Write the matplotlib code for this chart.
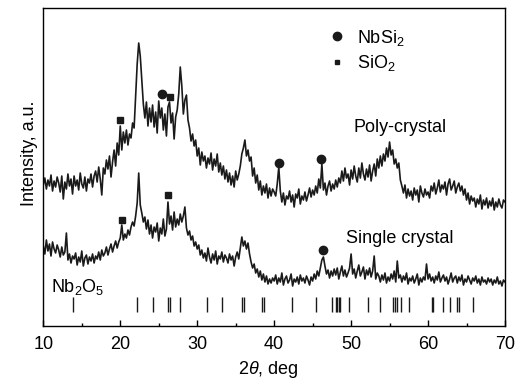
import numpy as np
import matplotlib
matplotlib.use("Agg")
import matplotlib.pyplot as plt
from matplotlib.lines import Line2D
from matplotlib.ticker import MultipleLocator

plt.rcParams['font.family'] = ['Liberation Sans', 'DejaVu Sans']
plt.rcParams['mathtext.fontset'] = 'custom'
plt.rcParams['mathtext.rm'] = 'Liberation Sans'
plt.rcParams['mathtext.it'] = 'Liberation Sans:italic'

# ---------------- data ----------------
two_theta = np.linspace(10, 70, 301)

poly_crystal = [
    141,148,137,146,140,151,135,145,139,149,
    143,134,150,127,144,137,152,140,147,132,
    150,140,146,136,153,142,138,149,135,147,
    143,152,139,150,155,144,159,147,131,158,
    152,166,157,170,149,164,176,160,183,171,
    200,176,194,183,196,181,192,188,203,198,
    231,262,283,270,246,222,208,224,200,218,
    204,221,199,214,193,225,208,218,196,212,
    190,219,224,203,213,187,209,216,232,259,
    240,212,226,231,206,198,185,192,180,186,
    170,178,161,174,165,170,158,168,162,173,
    156,167,160,172,154,163,151,160,147,156,
    144,153,141,150,139,155,146,152,160,172,
    178,186,170,176,165,169,150,158,143,151,
    136,145,131,140,133,142,128,138,130,137,
    134,130,142,159,135,124,133,121,130,127,
    135,124,131,119,132,128,137,122,130,126,
    134,125,131,138,129,136,131,140,133,147,
    138,162,136,143,131,140,145,135,142,137,
    146,139,148,143,155,145,158,148,152,141,
    156,147,160,150,144,158,148,163,152,146,
    157,149,161,145,155,162,150,167,158,170,
    160,172,165,178,169,184,171,176,162,167,
    158,163,146,140,133,141,128,137,130,135,
    126,138,131,136,124,140,133,129,137,131,
    134,128,140,135,143,132,138,146,134,141,
    137,144,131,142,147,136,140,145,133,139,
    143,135,140,131,137,126,133,122,130,125,
    128,119,127,122,131,117,126,121,128,118,
    125,120,128,116,124,119,127,121,118,126,
    124]

single_crystal = [
    80,72,86,75,82,70,84,77,73,81,
    76,69,79,71,74,93,66,72,63,70,
    67,73,61,69,64,75,60,68,71,62,
    69,65,72,63,70,67,74,66,76,70,
    73,79,71,77,82,74,80,85,78,84,
    88,101,86,92,88,96,91,99,104,100,
    110,123,153,121,113,104,109,97,106,92,
    101,88,99,94,103,85,98,92,107,90,
    97,124,102,110,96,114,99,107,101,112,
    104,110,119,98,91,95,86,90,80,84,
    77,81,71,76,68,73,65,78,69,63,
    72,66,75,62,70,67,74,64,71,68,
    63,72,66,70,60,69,74,67,78,89,
    80,85,77,83,72,64,58,62,53,57,
    49,55,46,52,44,50,42,47,43,48,
    45,51,42,48,44,53,41,47,50,43,
    46,52,40,47,44,49,42,51,45,48,
    43,50,46,41,49,45,52,47,55,50,
    58,66,69,60,52,56,48,55,50,57,
    51,58,47,54,60,50,56,49,53,58,
    72,52,57,48,55,61,50,54,59,47,
    56,51,58,49,55,70,47,53,50,44,
    51,46,53,43,49,45,52,47,55,44,
    65,48,51,44,50,46,53,42,48,45,
    50,43,47,52,41,48,44,49,46,62,
    47,52,45,49,43,50,46,54,44,48,
    51,45,49,42,47,53,44,48,50,43,
    49,45,51,41,47,44,50,46,42,48,
    45,50,43,47,41,49,44,46,42,48,
    44,47,41,46,43,49,42,45,40,46,
    44]

# phase markers (2theta, intensity)
nbsi2_poly_x = [25.4, 40.6, 46.15]
nbsi2_poly_y = [232, 163, 167]
sio2_poly_x = [20.0, 26.4]
sio2_poly_y = [206, 229]
nbsi2_single_x = [46.4]
nbsi2_single_y = [76]
sio2_single_x = [20.2, 26.2]
sio2_single_y = [106, 131]

# Nb2O5 reference lines (2theta)
nb2o5_lines = [13.8, 22.2, 24.3, 26.2, 26.5, 27.8, 31.3, 33.2, 35.8, 36.1,
               38.4, 38.7, 42.3, 45.4, 47.5, 48.0, 48.2, 48.4, 48.6, 49.7,
               52.2, 53.7, 55.5, 55.7, 55.9, 56.5, 57.5, 60.5, 60.7, 62.0,
               62.8, 63.7, 64.0, 65.8]

x_ticks = [10, 20, 30, 40, 50, 60, 70]

# ---------------- plot ----------------
fig = plt.figure(figsize=(5.23, 3.80), dpi=100)
ax = fig.add_axes([0.0828, 0.1421, 0.8828, 0.8368])

ax.plot(two_theta, poly_crystal, color='#1a1a1a', lw=1.2)
ax.plot(two_theta, single_crystal, color='#1a1a1a', lw=1.2)

ax.plot(nbsi2_poly_x, nbsi2_poly_y, 'o', color='#1a1a1a', ms=6, ls='none')
ax.plot(nbsi2_single_x, nbsi2_single_y, 'o', color='#1a1a1a', ms=6, ls='none')
ax.plot(sio2_poly_x, sio2_poly_y, 's', color='#1a1a1a', ms=4.5, ls='none')
ax.plot(sio2_single_x, sio2_single_y, 's', color='#1a1a1a', ms=4.5, ls='none')

ax.vlines(nb2o5_lines, 14, 29, color='#1a1a1a', lw=1.0)

handles = [Line2D([], [], marker='o', color='#1a1a1a', ls='none', ms=6),
           Line2D([], [], marker='s', color='#1a1a1a', ls='none', ms=3.5)]
ax.legend(handles, ['NbSi$_2$', 'SiO$_2$'], loc='upper left',
          bbox_to_anchor=(0.6166, 0.938), frameon=False, fontsize=13,
          borderpad=0, borderaxespad=0, handlelength=1.0, handletextpad=0.6,
          labelspacing=0.3)

ax.text(50.3, 199, 'Poly-crystal', fontsize=13, ha='left', va='center')
ax.text(49.4, 88, 'Single crystal', fontsize=13, ha='left', va='center')
ax.text(11.0, 39, 'Nb$_2$O$_5$', fontsize=13, ha='left', va='center')

ax.set_xlim(10, 70)
ax.set_ylim(0, 318)
ax.set_xticks(x_ticks)
ax.xaxis.set_minor_locator(MultipleLocator(5))
ax.set_yticks([])
ax.tick_params(axis='x', which='major', direction='in', length=4, width=1,
               labelsize=13, pad=7)
ax.tick_params(axis='x', which='minor', direction='in', length=2, width=1)
for s in ax.spines.values():
    s.set_linewidth(1.0)

ax.set_xlabel(r'2$\theta$, deg', fontsize=13)
ax.xaxis.set_label_coords(0.487, -0.138)
ax.xaxis.label.set_va('center')
ax.set_ylabel('Intensity, a.u.', fontsize=13)
ax.yaxis.set_label_coords(-0.0115, 0.544)

fig.savefig('out.png', dpi=100)
